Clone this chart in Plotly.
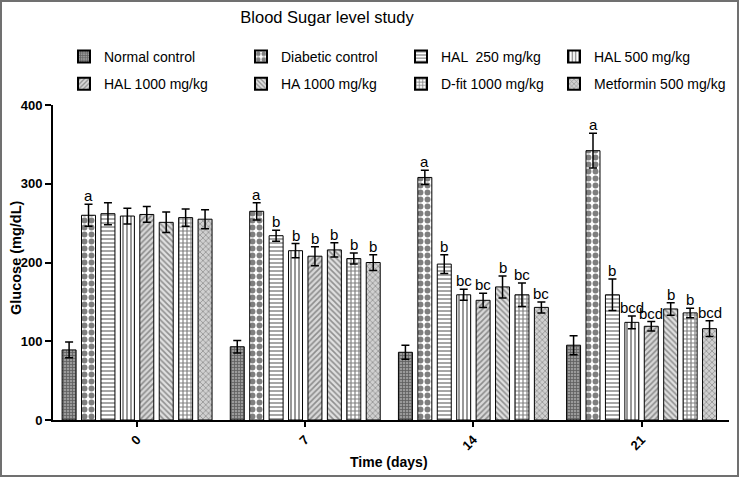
import plotly.graph_objects as go

days = ["0", "7", "14", "21"]
group_names = ["Normal control", "Diabetic control", "HAL  250 mg/kg", "HAL 500 mg/kg",
               "HAL 1000 mg/kg", "HA 1000 mg/kg", "D-fit 1000 mg/kg", "Metformin 500 mg/kg"]

normal_control = [89, 93, 86, 95]
normal_control_err = [10, 8, 9, 12]
diabetic_control = [260, 265, 308, 342]
diabetic_control_err = [14, 11, 9, 22]
hal_250 = [262, 234, 198, 159]
hal_250_err = [14, 7, 12, 20]
hal_500 = [259, 215, 159, 124]
hal_500_err = [10, 9, 7, 8]
hal_1000 = [261, 208, 152, 119]
hal_1000_err = [10, 12, 9, 6]
ha_1000 = [251, 216, 169, 141]
ha_1000_err = [13, 9, 14, 8]
dfit_1000 = [257, 205, 159, 136]
dfit_1000_err = [11, 7, 15, 6]
metformin_500 = [255, 200, 143, 116]
metformin_500_err = [12, 10, 7, 10]

normal_control_sig = ["", "", "", ""]
diabetic_control_sig = ["a", "a", "a", "a"]
hal_250_sig = ["", "b", "b", "b"]
hal_500_sig = ["", "b", "bc", "bcd"]
hal_1000_sig = ["", "b", "bc", "bcd"]
ha_1000_sig = ["", "b", "b", "b"]
dfit_1000_sig = ["", "b", "bc", "b"]
metformin_500_sig = ["", "b", "bc", "bcd"]

series = [
    (normal_control, normal_control_err, normal_control_sig),
    (diabetic_control, diabetic_control_err, diabetic_control_sig),
    (hal_250, hal_250_err, hal_250_sig),
    (hal_500, hal_500_err, hal_500_sig),
    (hal_1000, hal_1000_err, hal_1000_sig),
    (ha_1000, ha_1000_err, ha_1000_sig),
    (dfit_1000, dfit_1000_err, dfit_1000_sig),
    (metformin_500, metformin_500_err, metformin_500_sig),
]

patterns = [
    dict(shape="+", fgcolor="#202020", bgcolor="#9a9a9a", size=3, solidity=0.45),
    dict(shape=".", fgcolor="#000000", bgcolor="#ffffff", size=7, solidity=0.55),
    dict(shape="-", fgcolor="#000000", bgcolor="#ffffff", size=4, solidity=0.35),
    dict(shape="|", fgcolor="#000000", bgcolor="#ffffff", size=4, solidity=0.4),
    dict(shape="/", fgcolor="#404040", bgcolor="#d8d8d8", size=4, solidity=0.4),
    dict(shape="\\", fgcolor="#404040", bgcolor="#e0e0e0", size=4, solidity=0.4),
    dict(shape="+", fgcolor="#000000", bgcolor="#ffffff", size=4, solidity=0.5),
    dict(shape="x", fgcolor="#505050", bgcolor="#d0d0d0", size=4, solidity=0.35),
]

legend_of = ["legend", "legend2", "legend3", "legend4", "legend", "legend2", "legend3", "legend4"]

xpos = list(range(len(days)))
bargap = 0.076

fig = go.Figure()
for i, (vals, errs, sig) in enumerate(series):
    fig.add_trace(go.Bar(
        x=xpos, y=vals, name=group_names[i],
        marker=dict(color="#ffffff", line=dict(color="#000000", width=1), pattern=patterns[i]),
        error_y=dict(type="data", array=errs, visible=True, color="#000000", thickness=1.5, width=4),
        legend=legend_of[i], legendgroup=f"g{i}",
    ))

slot = (1 - bargap) / len(series)
annotations = []
for i, (vals, errs, sig) in enumerate(series):
    for g in range(len(days)):
        if sig[g]:
            annotations.append(dict(
                x=g + (i - (len(series) - 1) / 2) * slot, y=vals[g] + errs[g],
                xref="x", yref="y", text=sig[g], showarrow=False, yanchor="bottom",
                font=dict(family="Liberation Sans", size=15, color="#000000"),
                borderpad=0, yshift=-1,
            ))

L, R, T, B = 53, 10, 105, 57
W, H = 739, 477

def cx(px):
    return px / W

def cy(py):
    return 1 - py / H

# axis titles
annotations.append(dict(text="<b>Glucose (mg/dL)</b>", xref="paper", yref="paper",
                        x=(16 - L) / (W - L - R), y=(H - B - 258) / (H - T - B),
                        textangle=-90, showarrow=False, xanchor="center", yanchor="middle",
                        font=dict(family="Liberation Sans", size=14.5, color="#000000")))
annotations.append(dict(text="<b>Time (days)</b>", xref="paper", yref="paper",
                        x=(389 - L) / (W - L - R), y=(H - B - 462) / (H - T - B),
                        showarrow=False, xanchor="center", yanchor="middle",
                        font=dict(family="Liberation Sans", size=14, color="#000000")))

leg_font = dict(family="Liberation Sans", size=14, color="#000000")
leg_common = dict(font=leg_font, orientation="v", xanchor="left", yanchor="top",
                  xref="container", yref="container",
                  bgcolor="rgba(0,0,0,0)", tracegroupgap=6, itemsizing="constant")
leg_text_x = [105, 282, 442, 595]
leg_top = 41

fig.update_layout(
    width=W, height=H,
    margin=dict(l=L, r=R, t=T, b=B, autoexpand=False),
    paper_bgcolor="#ffffff", plot_bgcolor="#ffffff",
    barmode="group", bargap=bargap, bargroupgap=0.28,
    font=dict(family="Liberation Sans", color="#000000"),
    title=dict(text="Blood Sugar level study", x=cx(327), xref="container", xanchor="center",
               y=cy(17), yref="container", yanchor="middle",
               font=dict(family="Liberation Sans", size=16.5, color="#000000")),
    legend=dict(x=cx(leg_text_x[0] - 41), y=cy(leg_top), **leg_common),
    legend2=dict(x=cx(leg_text_x[1] - 41), y=cy(leg_top), **leg_common),
    legend3=dict(x=cx(leg_text_x[2] - 41), y=cy(leg_top), **leg_common),
    legend4=dict(x=cx(leg_text_x[3] - 41), y=cy(leg_top), **leg_common),
    annotations=annotations,
    showlegend=True,
    xaxis=dict(
        tickmode="array", tickvals=xpos, ticktext=days, range=[-0.5, 3.52],
        showline=True, linecolor="#000000", linewidth=2, ticks="outside", ticklen=5,
        tickwidth=1.5, tickcolor="#000000", tickangle=-45, showgrid=False, zeroline=False,
        automargin=False,
        tickfont=dict(family="Liberation Sans", size=13, color="#000000", weight="bold"),
    ),
    yaxis=dict(
        range=[0, 400], tickvals=[0, 100, 200, 300, 400],
        showline=True, linecolor="#000000", linewidth=2, ticks="outside", ticklen=6,
        tickwidth=1.5, tickcolor="#000000", showgrid=False, zeroline=False,
        automargin=False,
        tickfont=dict(family="Liberation Sans", size=13, color="#000000", weight="bold"),
    ),
    shapes=[dict(type="rect", xref="paper", yref="paper",
                 x0=(1 - L) / (W - L - R), x1=(W - 1 - L) / (W - L - R),
                 y0=(H - B - (H - 1)) / (H - T - B), y1=(H - B - 1) / (H - T - B),
                 line=dict(color="#707070", width=2), fillcolor="rgba(0,0,0,0)", layer="above")],
)

fig.write_html("out.html", config={"displayModeBar": False},
               post_script="document.body.style.margin='0px';document.body.style.overflow='hidden';")
